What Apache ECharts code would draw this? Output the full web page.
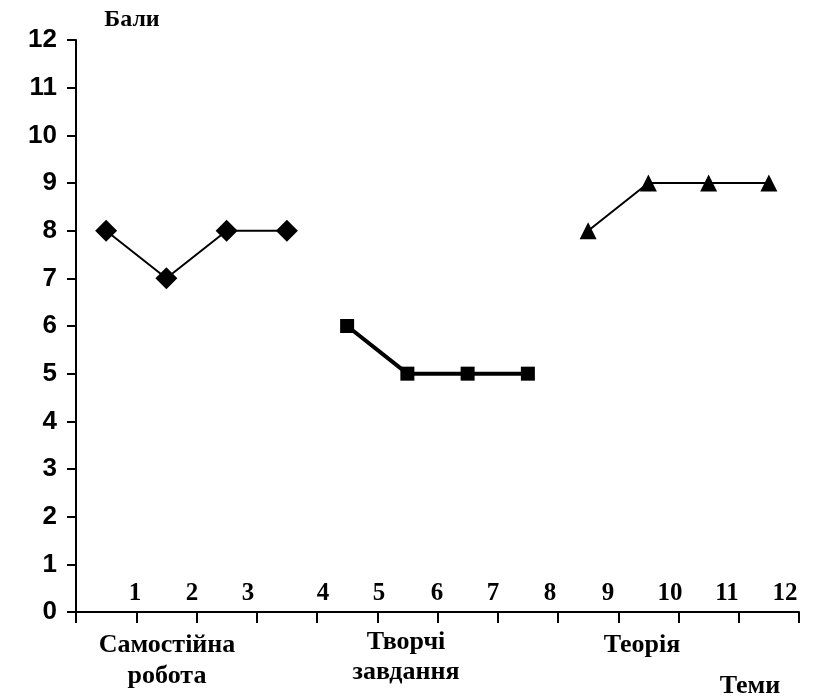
<!DOCTYPE html>
<html>
<head>
<meta charset="utf-8">
<script src="https://cdn.jsdelivr.net/npm/echarts@6/dist/echarts.min.js"></script>
<style>
  html, body { margin: 0; padding: 0; background: #fff; }
  #chart { width: 816px; height: 699px; }
</style>
</head>
<body>
<div id="chart"></div>
<script>
  // дані
  var categories = ['1', '2', '3', '4', '5', '6', '7', '8', '9', '10', '11', '12'];
  var samostiyna = [8, 7, 8, 8, null, null, null, null, null, null, null, null];
  var tvorchi = [null, null, null, null, 6, 5, 5, 5, null, null, null, null];
  var teoriya = [null, null, null, null, null, null, null, null, 8, 9, 9, 9];
  var topicLabels = ['1', '2', '3', '4', '5', '6', '7', '8', '9', '10', '11', '12'];

  // x-позиції підписів тем (в оригіналі вони зсунуті відносно точок)
  var topicX = [135, 192, 248, 323, 379, 437, 493, 550, 608, 670, 727, 785];

  var serif = '"Liberation Serif", "Times New Roman", serif';
  var sans = '"Liberation Sans", Arial, sans-serif';

  var chart = echarts.init(document.getElementById('chart'));

  function txt(x, y, text, size, lh) {
    return {
      type: 'text', x: x, y: y,
      style: {
        text: text, align: 'center', verticalAlign: 'middle',
        font: 'bold ' + size + 'px ' + serif, lineHeight: lh || size, fill: '#000'
      }
    };
  }

  var graphics = topicLabels.map(function (t, i) {
    return txt(topicX[i], 594, t, 25);
  });
  graphics.push(
    txt(132, 20, 'Бали', 24),
    txt(167, 661, 'Самостійна\nробота', 26, 31),
    txt(406, 657, 'Творчі\nзавдання', 26, 30),
    txt(642, 645, 'Теорія', 26),
    txt(750, 686, 'Теми', 26)
  );

  chart.setOption({
    animation: false,
    backgroundColor: '#fff',
    grid: { left: 76, right: 17, top: 40, bottom: 87 },
    xAxis: {
      type: 'category',
      data: categories,
      boundaryGap: true,
      axisLine: { lineStyle: { color: '#000', width: 2 } },
      axisTick: { show: true, length: 11, lineStyle: { color: '#000', width: 2 } },
      axisLabel: { show: false },
      splitLine: { show: false }
    },
    yAxis: {
      type: 'value',
      min: 0,
      max: 12,
      interval: 1,
      axisLine: { show: true, lineStyle: { color: '#000', width: 2 } },
      axisTick: { show: true, length: 9, lineStyle: { color: '#000', width: 2 } },
      axisLabel: { color: '#000', fontFamily: sans, fontWeight: 'bold', fontSize: 26, margin: 19 },
      splitLine: { show: false }
    },
    graphic: graphics,
    series: [
      {
        name: 'Самостійна робота',
        type: 'line',
        data: samostiyna,
        symbol: 'diamond',
        symbolSize: 22,
        lineStyle: { color: '#000', width: 2 },
        itemStyle: { color: '#000' }
      },
      {
        name: 'Творчі завдання',
        type: 'line',
        data: tvorchi,
        symbol: 'rect',
        symbolSize: 14,
        lineStyle: { color: '#000', width: 4 },
        itemStyle: { color: '#000' }
      },
      {
        name: 'Теорія',
        type: 'line',
        data: teoriya,
        symbol: 'triangle',
        symbolSize: 17,
        lineStyle: { color: '#000', width: 2 },
        itemStyle: { color: '#000' }
      }
    ]
  });
</script>
</body>
</html>
